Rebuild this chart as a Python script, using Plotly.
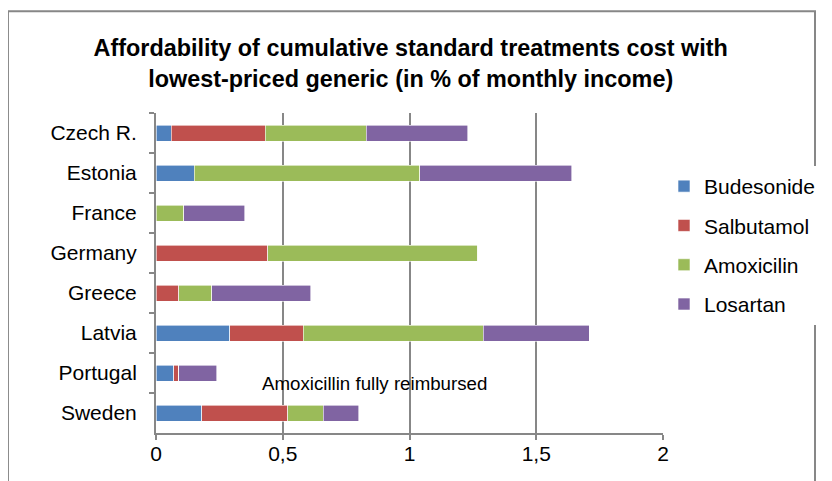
import plotly.graph_objects as go

countries = ["Czech R.", "Estonia", "France", "Germany", "Greece", "Latvia", "Portugal", "Sweden"]
budesonide = [0.06, 0.15, 0.0, 0.0, 0.0, 0.29, 0.07, 0.18]
salbutamol = [0.37, 0.0, 0.0, 0.44, 0.09, 0.29, 0.02, 0.34]
amoxicilin = [0.40, 0.89, 0.11, 0.83, 0.13, 0.71, 0.0, 0.14]
losartan = [0.40, 0.60, 0.24, 0.0, 0.39, 0.42, 0.15, 0.14]
series = [("Budesonide", budesonide, "#4F81BD"),
          ("Salbutamol", salbutamol, "#C0504D"),
          ("Amoxicilin", amoxicilin, "#9BBB59"),
          ("Losartan", losartan, "#8064A2")]
tick_vals = [0, 0.5, 1, 1.5, 2]
tick_text = ["0", "0,5", "1", "1,5", "2"]
title = "Affordability of cumulative standard treatments cost with<br>lowest-priced generic (in % of monthly income)"
note = "Amoxicillin fully reimbursed"

fig = go.Figure()
for name, vals, col in series:
    fig.add_trace(go.Bar(y=countries, x=vals, name=name, orientation="h",
                         marker=dict(color=col, line=dict(color="white", width=0.6)),
                         legendgroup=name))

font = "Liberation Sans, Arial, sans-serif"
fig.update_layout(
    barmode="stack", bargap=0.6,
    width=832, height=481,
    margin=dict(l=148, r=177, t=105, b=56, autoexpand=False),
    paper_bgcolor="white", plot_bgcolor="white",
    font=dict(family=font, size=21, color="black"),
    title=dict(text="<b>" + title + "</b>", x=0.484, xanchor="center", y=0.90, yanchor="middle",
               font=dict(size=23.4, family=font, color="black")),
    showlegend=True,
    legend=dict(x=1.002, xanchor="left", y=0.586, yanchor="middle", traceorder="grouped",
                tracegroupgap=9, font=dict(size=21), itemwidth=30),
    xaxis=dict(range=[0, 2], tickvals=tick_vals, ticktext=tick_text, showgrid=True,
               gridcolor="#878787", gridwidth=2, zeroline=False, showline=True,
               linecolor="#878787", linewidth=2, ticks="outside", ticklen=5, tickcolor="#878787",
               tickwidth=2, tickfont=dict(size=21), fixedrange=True, automargin=False,
               ticklabelstandoff=-4),
    yaxis=dict(autorange="reversed", showline=True, linecolor="#878787", linewidth=2,
               ticks="outside", ticklen=5, tickcolor="#878787", tickwidth=2, tickson="boundaries",
               tickfont=dict(size=21), ticklabelstandoff=13, showgrid=False, automargin=False),
)
fig.add_annotation(x=0.86, y="Portugal", text=note, showarrow=False, yshift=-10,
                   font=dict(size=18.7, family=font, color="black"))
fig.add_shape(type="rect", xref="paper", yref="paper", x0=-0.292, x1=1.2998, y0=-0.3, y1=1.318,
              line=dict(color="#878787", width=2), layer="below")
fig.write_html("out.html")
